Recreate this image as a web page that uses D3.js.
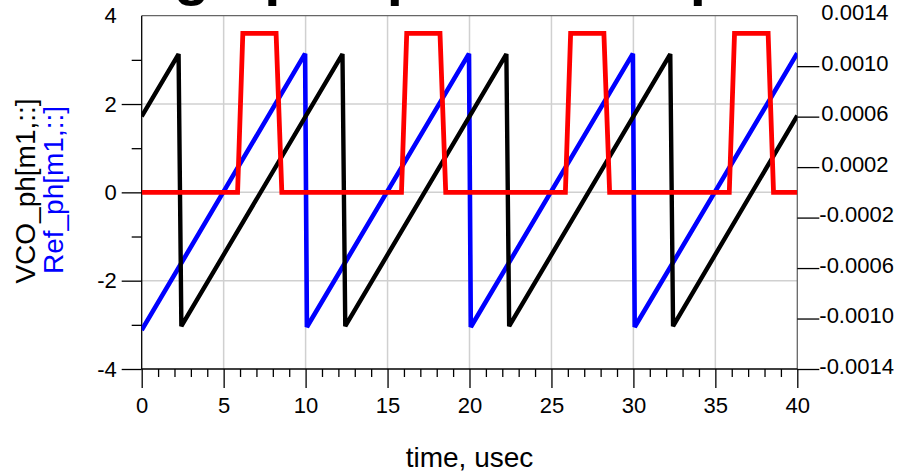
<!DOCTYPE html>
<html>
<head>
<meta charset="utf-8">
<script src="https://cdn.jsdelivr.net/npm/d3@7"></script>
<style>
  body { margin: 0; background: #fff; }
  svg { display: block; font-family: "Liberation Sans", Arial, sans-serif; }
</style>
</head>
<body>
<script>
// ---- data ----
const titleText = "Lock graph - phase comparator";
const xTickLabels = [0, 5, 10, 15, 20, 25, 30, 35, 40];
const xMinorTicks = [1,2,3,4,6,7,8,9,11,12,13,14,16,17,18,19,21,22,23,24,26,27,28,29,31,32,33,34,36,37,38,39];
const yLeftLabels = [-4, -2, 0, 2, 4];
const yLeftMajorTicks = [-4, -2, 0, 2];
const yLeftMinorTicks = [-3, -1, 1, 3];
const yRightLabels = [-0.0014, -0.0010, -0.0006, -0.0002, 0.0002, 0.0006, 0.0010, 0.0014];
const yRightTicks = [-0.0014, -0.0010, -0.0006, -0.0002, 0.0002, 0.0006, 0.0010];
const xGrid = [5, 10, 15, 20, 25, 30, 35];
const yGrid = [-2, 0, 2];

// VCO_ph (black, left axis) — vertices of the wrapped phase ramp
const vcoTime  = [0, 2.25, 2.42, 12.25, 12.42, 22.25, 22.42, 32.25, 32.42, 40];
const vcoPhase = [1.72, 3.13, -3.03, 3.13, -3.03, 3.13, -3.03, 3.13, -3.03, 1.74];

// Ref_ph (blue, left axis)
const refTime  = [0, 9.97, 10.08, 19.97, 20.08, 29.97, 30.08, 40];
const refPhase = [-3.12, 3.14, -3.05, 3.14, -3.05, 3.14, -3.05, 3.15];

// Phase-detector output (red, right axis)
const pdTime  = [0, 5.85, 6.17, 8.2, 8.55, 15.85, 16.17, 18.2, 18.55, 25.85, 26.17, 28.2, 28.55, 35.85, 36.17, 38.22, 38.55, 40];
const pdValue = [0, 0, 0.00126, 0.00126, 0, 0, 0.00126, 0.00126, 0, 0, 0.00126, 0.00126, 0, 0, 0.00126, 0.00126, 0, 0];

// ---- layout ----
const W = 901, H = 474;
const L = 141.7, R = 797.3, T = 15.7, B = 369;

const svg = d3.select("body").append("svg").attr("width", W).attr("height", H);

const x = d3.scaleLinear().domain([0, 40]).range([L, R]);
const yL = d3.scaleLinear().domain([-4, 4]).range([B, T]);
const yR = d3.scaleLinear().domain([-0.0014, 0.0014]).range([B, T]);

// title (cut off at the top of the picture)
const title = svg.append("text")
  .attr("y", -6.5)
  .attr("font-size", 58)
  .attr("font-weight", "bold")
  .attr("fill", "#000")
  .text(titleText);
const gIdx = titleText.indexOf("graph");
const gPos = title.node().getStartPositionOfChar(gIdx).x;
title.attr("x", 174 - gPos);

// grid
svg.append("g").selectAll("line").data(xGrid).join("line")
  .attr("x1", d => x(d)).attr("x2", d => x(d))
  .attr("y1", T).attr("y2", B)
  .attr("stroke", "#d0d0d0").attr("stroke-width", 1.5);
svg.append("g").selectAll("line").data(yGrid).join("line")
  .attr("x1", L).attr("x2", R)
  .attr("y1", d => yL(d)).attr("y2", d => yL(d))
  .attr("stroke", "#d0d0d0").attr("stroke-width", 1.5);

// frame
svg.append("line").attr("x1", L).attr("x2", R).attr("y1", T).attr("y2", T).attr("stroke", "#666").attr("stroke-width", 1.3);
svg.append("line").attr("x1", R).attr("x2", R).attr("y1", T).attr("y2", B).attr("stroke", "#666").attr("stroke-width", 1.3);
svg.append("line").attr("x1", L).attr("x2", L).attr("y1", T).attr("y2", B).attr("stroke", "#000").attr("stroke-width", 1.3);
svg.append("line").attr("x1", L).attr("x2", R).attr("y1", B).attr("y2", B).attr("stroke", "#000").attr("stroke-width", 1.3);

function styleAxis(g) {
  g.select(".domain").remove();
  g.selectAll(".tick line").attr("stroke", "#000").attr("stroke-width", 1.3);
  g.selectAll("text").attr("fill", "#000").attr("font-family", "Liberation Sans, Arial, sans-serif");
}

// bottom axis
svg.append("g").attr("transform", `translate(0,${B})`)
  .call(d3.axisBottom(x).tickValues(xMinorTicks).tickSize(8).tickFormat(""))
  .call(styleAxis);
svg.append("g").attr("transform", `translate(0,${B})`)
  .call(d3.axisBottom(x).tickValues(xTickLabels).tickSize(19).tickFormat(d3.format("d")))
  .call(styleAxis)
  .call(g => g.selectAll("text").attr("font-size", 22).attr("y", 44).attr("dy", 0));

// left axis
svg.append("g").attr("transform", `translate(${L},0)`)
  .call(d3.axisLeft(yL).tickValues(yLeftMinorTicks).tickSize(10).tickFormat(""))
  .call(styleAxis);
svg.append("g").attr("transform", `translate(${L},0)`)
  .call(d3.axisLeft(yL).tickValues(yLeftMajorTicks).tickSize(20).tickFormat(""))
  .call(styleAxis);
svg.append("g").attr("transform", `translate(${L},0)`)
  .call(d3.axisLeft(yL).tickValues(yLeftLabels).tickSize(0).tickPadding(25).tickFormat(d3.format("d")))
  .call(styleAxis)
  .call(g => g.selectAll("text").attr("font-size", 22).text(d => d < 0 ? "-" + Math.abs(d) : d));

// right axis
svg.append("g").attr("transform", `translate(${R},0)`)
  .call(d3.axisRight(yR).tickValues(yRightTicks).tickSize(22).tickFormat(""))
  .call(styleAxis);
svg.append("g").attr("transform", `translate(${R},0)`)
  .call(d3.axisRight(yR).tickValues(yRightLabels).tickSize(0).tickPadding(23)
    .tickFormat(d => (d < 0 ? "-" : "") + Math.abs(d).toFixed(4)))
  .call(styleAxis)
  .call(g => g.selectAll("text").attr("font-size", 22).attr("y", -3)
    .attr("x", d => d < 0 ? 22 : 24));

// axis titles
svg.append("text")
  .attr("x", (L + R) / 2).attr("y", 467)
  .attr("text-anchor", "middle").attr("font-size", 28).attr("fill", "#000")
  .text("time, usec");
svg.append("text")
  .attr("transform", "translate(35,191) rotate(-90)")
  .attr("text-anchor", "middle").attr("font-size", 28).attr("fill", "#000")
  .text("VCO_ph[m1,::]");
svg.append("text")
  .attr("transform", "translate(63,190) rotate(-90)")
  .attr("text-anchor", "middle").attr("font-size", 28).attr("fill", "#0000ff")
  .text("Ref_ph[m1,::]");

// series
svg.append("clipPath").attr("id", "plotclip")
  .append("rect").attr("x", L).attr("y", T - 4).attr("width", R - L).attr("height", B - T + 8);

const plot = svg.append("g").attr("clip-path", "url(#plotclip)");

const lineL = d3.line().x(d => x(d[0])).y(d => yL(d[1]));
const lineR = d3.line().x(d => x(d[0])).y(d => yR(d[1]));

plot.append("path")
  .datum(refTime.map((t, i) => [t, refPhase[i]]))
  .attr("d", lineL).attr("fill", "none").attr("stroke", "#0000ff")
  .attr("stroke-width", 4.6).attr("stroke-linejoin", "miter").attr("stroke-miterlimit", 3);
plot.append("path")
  .datum(vcoTime.map((t, i) => [t, vcoPhase[i]]))
  .attr("d", lineL).attr("fill", "none").attr("stroke", "#000")
  .attr("stroke-width", 4.4).attr("stroke-linejoin", "miter").attr("stroke-miterlimit", 3);
plot.append("path")
  .datum(pdTime.map((t, i) => [t, pdValue[i]]))
  .attr("d", lineR).attr("fill", "none").attr("stroke", "#ff0000")
  .attr("stroke-width", 4.8).attr("stroke-linejoin", "miter").attr("stroke-miterlimit", 4);
</script>
</body>
</html>
